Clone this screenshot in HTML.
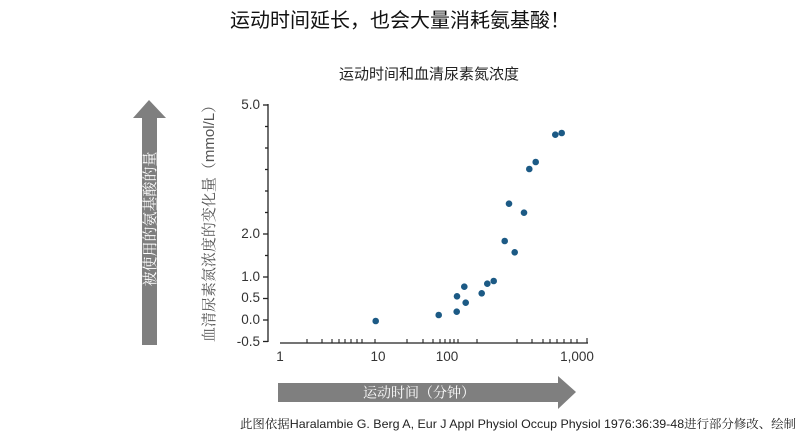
<!DOCTYPE html>
<html><head><meta charset="utf-8"><style>
body{margin:0;background:#fff;}
svg{display:block}
.s{font-family:"Liberation Sans","Noto Sans CJK SC",sans-serif;}
.r{font-family:"Liberation Sans","Noto Serif CJK SC",serif;}
</style></head><body>
<svg width="800" height="439" viewBox="0 0 800 439" xmlns="http://www.w3.org/2000/svg">
<text class="s" x="400" y="27" font-size="20" text-anchor="middle" fill="#111">运动时间延长，也会大量消耗氨基酸！</text>
<text class="s" x="429" y="79" font-size="15" text-anchor="middle" fill="#222">运动时间和血清尿素氮浓度</text>
<polygon points="149,100 166,118 157,118 157,345 142,345 142,118 133,118" fill="#7f7f7f"/>
<text class="r" transform="translate(155,219) rotate(-90)" font-size="15" fill="#fff" text-anchor="middle">被使用的氨基酸的量</text>
<text class="r" transform="translate(214,220) rotate(-90)" font-size="15" fill="#555" text-anchor="middle">血清尿素氮浓度的变化量（<tspan class="s">mmol/L</tspan>）</text>
<g stroke="#222" stroke-width="1.3">
<line x1="268" y1="104" x2="268" y2="342"/>
<line x1="263" y1="105" x2="268" y2="105"/><line x1="265" y1="126.5" x2="268" y2="126.5"/>
<line x1="265" y1="148" x2="268" y2="148"/><line x1="265" y1="169.5" x2="268" y2="169.5"/>
<line x1="265" y1="191" x2="268" y2="191"/><line x1="265" y1="212.5" x2="268" y2="212.5"/>
<line x1="263" y1="234" x2="268" y2="234"/><line x1="265" y1="255.5" x2="268" y2="255.5"/>
<line x1="263" y1="277" x2="268" y2="277"/><line x1="263" y1="298.5" x2="268" y2="298.5"/>
<line x1="263" y1="320" x2="268" y2="320"/><line x1="263" y1="341.5" x2="268" y2="341.5"/>
</g>
<g class="s" font-size="13.5" fill="#333" text-anchor="end">
<text x="260" y="109">5.0</text><text x="260" y="238">2.0</text><text x="260" y="281">1.0</text>
<text x="260" y="302">0.5</text><text x="260" y="324">0.0</text><text x="260" y="346">-0.5</text>
</g>
<line x1="280" y1="343" x2="588" y2="343" stroke="#222" stroke-width="1.3"/>
<g stroke="#222" stroke-width="1.1">
<line x1="307" y1="343" x2="307" y2="339"/><line x1="322" y1="343" x2="322" y2="339"/><line x1="332" y1="343" x2="332" y2="339"/><line x1="339" y1="343" x2="339" y2="339"/><line x1="345" y1="343" x2="345" y2="339"/><line x1="351" y1="343" x2="351" y2="339"/><line x1="357" y1="343" x2="357" y2="339"/><line x1="362" y1="343" x2="362" y2="339"/><line x1="375" y1="343" x2="375" y2="339"/>
<line x1="407" y1="343" x2="407" y2="339"/><line x1="423" y1="343" x2="423" y2="339"/><line x1="433" y1="343" x2="433" y2="339"/><line x1="440" y1="343" x2="440" y2="339"/><line x1="445" y1="343" x2="445" y2="339"/><line x1="450" y1="343" x2="450" y2="339"/><line x1="454" y1="343" x2="454" y2="339"/><line x1="458" y1="343" x2="458" y2="339"/><line x1="477" y1="343" x2="477" y2="339"/>
<line x1="517" y1="343" x2="517" y2="339"/><line x1="532" y1="343" x2="532" y2="339"/><line x1="543" y1="343" x2="543" y2="339"/><line x1="550" y1="343" x2="550" y2="339"/><line x1="557" y1="343" x2="557" y2="339"/><line x1="564" y1="343" x2="564" y2="339"/><line x1="571" y1="343" x2="571" y2="339"/><line x1="577" y1="343" x2="577" y2="339"/><line x1="587" y1="343" x2="587" y2="338"/>
</g>
<g class="s" font-size="13.5" fill="#333" text-anchor="middle">
<text x="280" y="361">1</text><text x="378" y="361">10</text><text x="447" y="361">100</text><text x="577" y="361">1,000</text>
</g>
<g fill="#1c5a85">
<circle cx="375.7" cy="321" r="3.3"/><circle cx="438.7" cy="315" r="3.3"/><circle cx="456.7" cy="311.7" r="3.3"/>
<circle cx="457" cy="296.3" r="3.3"/><circle cx="464.3" cy="286.7" r="3.3"/><circle cx="465.7" cy="302.7" r="3.3"/>
<circle cx="481.7" cy="293.3" r="3.3"/><circle cx="487.3" cy="283.7" r="3.3"/><circle cx="493.7" cy="281" r="3.3"/>
<circle cx="504.7" cy="241" r="3.3"/><circle cx="509" cy="203.7" r="3.3"/><circle cx="514.7" cy="252.3" r="3.3"/>
<circle cx="524" cy="212.7" r="3.3"/><circle cx="529.3" cy="169" r="3.3"/><circle cx="535.7" cy="162" r="3.3"/>
<circle cx="555.3" cy="134.7" r="3.3"/><circle cx="561.7" cy="133" r="3.3"/>
</g>
<polygon points="278,383 558,383 558,376 576,392 558,409 558,402 278,402" fill="#7f7f7f"/>
<text class="r" x="419" y="397.5" font-size="14" fill="#fff" text-anchor="middle">运动时间（分钟）</text>
<text class="r" x="796" y="428" font-size="12" fill="#222" text-anchor="end" textLength="556" lengthAdjust="spacingAndGlyphs">此图依据<tspan class="s">Haralambie G. Berg A, Eur J Appl Physiol Occup Physiol 1976:36:39-48</tspan>进行部分修改、绘制</text>
</svg>
</body></html>
